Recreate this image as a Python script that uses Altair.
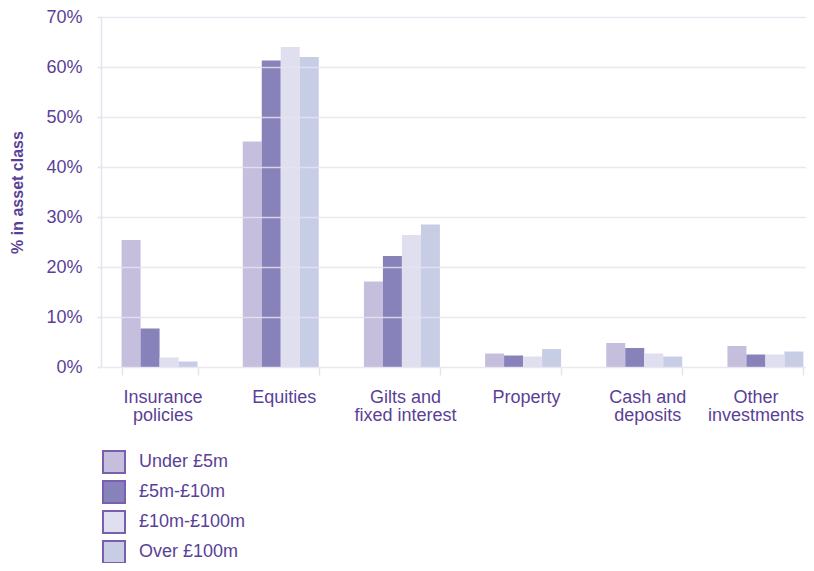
import altair as alt
import pandas as pd

categories = ["Insurance policies", "Equities", "Gilts and fixed interest",
              "Property", "Cash and deposits", "Other investments"]
label_lines = [["Insurance", "policies"], ["Equities"], ["Gilts and", "fixed interest"],
               ["Property"], ["Cash and", "deposits"], ["Other", "investments"]]
series = ["Under £5m", "£5m-£10m", "£10m-£100m", "Over £100m"]
under_5m = [25.4, 45.1, 17.1, 2.7, 4.8, 4.2]
m5_to_10 = [7.7, 61.3, 22.2, 2.3, 3.8, 2.5]
m10_to_100 = [1.9, 64.0, 26.4, 2.1, 2.7, 2.5]
over_100m = [1.1, 62.0, 28.5, 3.6, 2.1, 3.1]
colors = ["#c5bfdd", "#8882bb", "#e0dfef", "#c8cde6"]
y_ticks = [0, 10, 20, 30, 40, 50, 60, 70]

TEXT = "#5a3f97"
GRID = "#e6e3f0"
FONT = "Liberation Sans"

rows = []
for s, vals in zip(series, [under_5m, m5_to_10, m10_to_100, over_100m]):
    for c, v in zip(categories, vals):
        rows.append({"category": c, "band": s, "value": v})
df = pd.DataFrame(rows)

def js_str(s):
    return "'" + s.replace("'", "\\'") + "'"

label_expr = ""
for c, lines in zip(categories, label_lines):
    label_expr += "datum.label == " + js_str(c) + " ? [" + ",".join(js_str(l) for l in lines) + "] : "
label_expr += "datum.label"

last_label_test = "datum.label == " + js_str(categories[-1])

chart = alt.Chart(df).mark_bar().encode(
    x=alt.X("category:N", sort=categories,
            scale=alt.Scale(range=[-2, 725], paddingInner=0.3728, paddingOuter=0.1864),
            axis=alt.Axis(title=None, labelAngle=0, domain=False, ticks=True,
                          tickBand="extent", tickSize=8, tickColor=GRID, tickWidth=1.5,
                          labelExpr=label_expr, labelFont=FONT, labelFontSize=18,
                          labelColor=TEXT, labelPadding=13, labelLineHeight=18,
                          labelBaseline="top", labelLimit=200,
                          labelOffset=alt.condition(last_label_test, alt.value(-10), alt.value(3)))),
    xOffset=alt.XOffset("band:N", sort=series,
                        scale=alt.Scale(paddingInner=0, paddingOuter=0)),
    y=alt.Y("value:Q",
            scale=alt.Scale(domain=[0, 70], nice=False),
            axis=alt.Axis(title="% in asset class", values=y_ticks,
                          labelExpr="datum.value + '%'",
                          labelFont=FONT, labelFontSize=18, labelColor=TEXT,
                          labelPadding=15, tickSize=4, tickColor=GRID, tickWidth=1.5,
                          domain=True, domainColor=GRID, domainWidth=1.5,
                          grid=True, gridColor=GRID, gridWidth=1.5, gridOpacity=0.85,
                          zindex=1,
                          titleFont=FONT, titleFontSize=16, titleFontWeight="bold",
                          titleColor=TEXT, titleAngle=270, titleX=-84, titleY=175,
                          titleAlign="center", titleBaseline="middle")),
    color=alt.Color("band:N", sort=series,
                    scale=alt.Scale(domain=series, range=colors),
                    legend=alt.Legend(title=None, orient="none", legendX=1, legendY=433,
                                      direction="vertical", symbolType="square",
                                      symbolSize=484, symbolStrokeColor="#7a5fb0",
                                      symbolStrokeWidth=2, symbolOpacity=1,
                                      labelFont=FONT, labelFontSize=18, labelColor=TEXT,
                                      labelOffset=13, rowPadding=0, padding=0)),
).properties(
    width=705, height=350,
    autosize=alt.AutoSizeParams(type="none"),
    padding={"left": 93, "top": 9, "right": 0, "bottom": 196},
).configure_view(stroke=None)

chart.save("out.html", embed_options={"renderer": "svg", "actions": False})
